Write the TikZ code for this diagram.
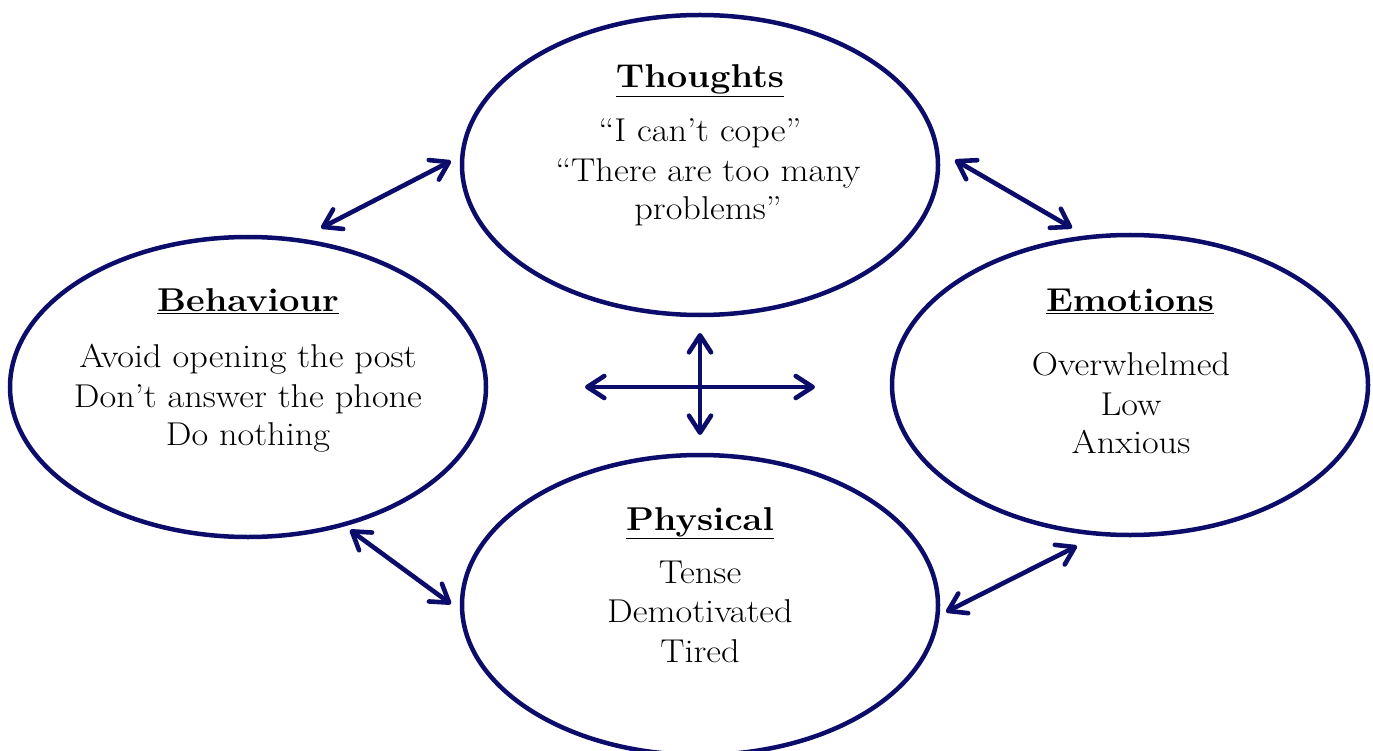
\documentclass[tikz,border=0pt]{standalone}
\usepackage{fontspec}
\setmainfont{Latin Modern Roman}[FakeStretch=1.1]
\usetikzlibrary{shapes.geometric,arrows.meta}
\definecolor{navy}{RGB}{12,12,106}
\begin{document}
\begin{tikzpicture}[x=1pt,y=-1pt,
  oval/.style={ellipse,draw=navy,line width=4.5pt,minimum width=476pt,minimum height=300pt,inner sep=0pt,outer sep=0pt},
  ttl/.style={font=\fontsize{33}{39}\selectfont\bfseries,anchor=base,inner sep=0pt},
  body/.style={font=\fontsize{33}{39}\selectfont,anchor=base,inner sep=0pt},
  link/.style={draw=navy,line width=4.6pt,line cap=round,{Straight Barb[length=17pt,width=22pt,round]}-{Straight Barb[length=17pt,width=22pt,round]}}]
\useasboundingbox (0,0) rectangle (1373,751);
\clip (0,0) rectangle (1373,751);
% ellipses
\node[oval] (tho) at (700,165) {};
\node[oval] (beh) at (248,387) {};
\node[oval] (emo) at (1130,385) {};
\node[oval] (phy) at (700,605) {};
% Thoughts text
\node[ttl] (thoT) at (700,88) {\underline{Thoughts}};
\node[body] (thoA) at (700,142) {“I can’t cope”};
\node[body] (thoB) at (708,182) {“There are too many};
\node[body] (thoC) at (708,220) {problems”};
% Behaviour text
\node[ttl] (behT) at (248,312) {\underline{Behaviour}};
\node[body] (behA) at (248,367) {Avoid opening the post};
\node[body] (behB) at (248,407) {Don’t answer the phone};
\node[body] (behC) at (248,445) {Do nothing};
% Emotions text
\node[ttl] (emoT) at (1130,312) {\underline{Emotions}};
\node[body] (emoA) at (1131,375) {Overwhelmed};
\node[body] (emoB) at (1131,415) {Low};
\node[body] (emoC) at (1131,453) {Anxious};
% Physical text
\node[ttl] (phyT) at (700,530) {\underline{Physical}};
\node[body] (phyA) at (700,583) {Tense};
\node[body] (phyB) at (700,622) {Demotivated};
\node[body] (phyC) at (700,662) {Tired};
% arrow end points
\coordinate (bt1) at (321,228);
\coordinate (bt2) at (451,161);
\coordinate (te1) at (955,160);
\coordinate (te2) at (1072,228);
\coordinate (bp1) at (350,530);
\coordinate (bp2) at (451,604);
\coordinate (ep1) at (1077,546);
\coordinate (ep2) at (946,612);
\coordinate (cl) at (585,387);
\coordinate (cr) at (815,387);
\coordinate (ct) at (700,333);
\coordinate (cb) at (700,435);
% connectors
\draw[link] (bt1) -- (bt2);
\draw[link] (te1) -- (te2);
\draw[link] (bp1) -- (bp2);
\draw[link] (ep1) -- (ep2);
\draw[link] (cl) -- (cr);
\draw[link] (ct) -- (cb);
\end{tikzpicture}
\end{document}
